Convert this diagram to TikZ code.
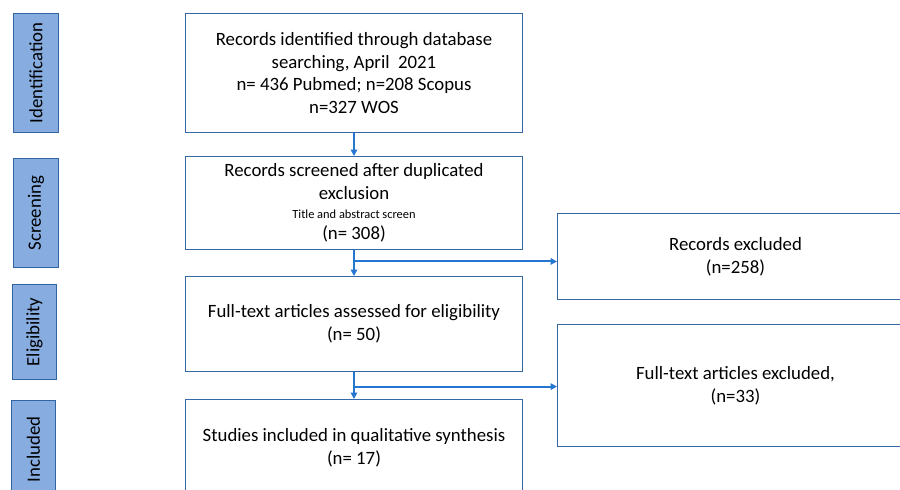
\documentclass[tikz,border=0pt]{standalone}
\usepackage{fontspec}
\setmainfont{Carlito}
\usetikzlibrary{arrows.meta,calc}
\definecolor{boxline}{RGB}{52,104,168}
\definecolor{phasefill}{RGB}{134,172,224}
\definecolor{phaseline}{RGB}{50,100,165}
\definecolor{flowline}{RGB}{36,118,208}
\begin{document}
\begin{tikzpicture}[x=1pt,y=-1pt,
  flowbox/.style={draw=boxline,line width=1pt,fill=white,anchor=north west,
    align=center,inner sep=0pt,
    font=\fontsize{18.8}{22.7}\selectfont},
  phase/.style={draw=phaseline,line width=1pt,fill=phasefill,anchor=north west,
    inner sep=0pt},
  phasetext/.style={rotate=90,font=\fontsize{18.8}{22.7}\selectfont},
  arr/.style={draw=flowline,line width=2pt,
    -{Triangle[length=6.5pt,width=6.5pt]}}]
\clip (0,0) rectangle (900,490);
\useasboundingbox (0,0) rectangle (900,490);

% phase labels on the left
\node[phase,minimum width=45,minimum height=119] (pid) at (13,13) {};
\node[phasetext] at (pid.center) {Identification};
\node[phase,minimum width=45,minimum height=109] (psc) at (13,158) {};
\node[phasetext] at (psc.center) {Screening};
\node[phase,minimum width=44,minimum height=95] (pel) at (12,284) {};
\node[phasetext] at (pel.center) {Eligibility};
\node[phase,minimum width=44,minimum height=98] (pin) at (11,400) {};
\node[phasetext] at (pin.center) {Included};

% main flow
\node[flowbox,minimum width=337,minimum height=119] (b1) at (185,13)
  {Records identified through database\\searching, April\ \ 2021\\n= 436 Pubmed; n=208 Scopus\\n=327 WOS};
\node[flowbox,minimum width=337,minimum height=93] (b2) at (185,156)
  {Records screened after duplicated\\exclusion\\[-4pt]{\fontsize{12.4}{15}\selectfont Title and abstract screen}\\[-1pt](n= 308)};
\node[flowbox,minimum width=337,minimum height=95] (b3) at (185,276)
  {Full-text articles assessed for eligibility\\(n= 50)};
\node[flowbox,minimum width=337,minimum height=96] (b4) at (185,399)
  {Studies included in qualitative synthesis\\(n= 17)};

% exclusions on the right
\node[flowbox,minimum width=356,minimum height=86] (r1) at (557,213)
  {Records excluded\\(n=258)};
\node[flowbox,minimum width=356,minimum height=122] (r2) at (557,324)
  {Full-text articles excluded,\\(n=33)};

% connectors
\draw[arr] (b1.south) -- (b2.north);
\draw[arr] (b2.south) -- (b3.north);
\draw[arr] (b3.south) -- (b4.north);
\coordinate (j1) at ($(b2.south)!0.44!(b3.north)$);
\coordinate (j2) at ($(b3.south)!0.54!(b4.north)$);
\draw[arr] (j1) -- (j1 -| r1.west);
\draw[arr] (j2) -- (j2 -| r2.west);
\end{tikzpicture}
\end{document}
